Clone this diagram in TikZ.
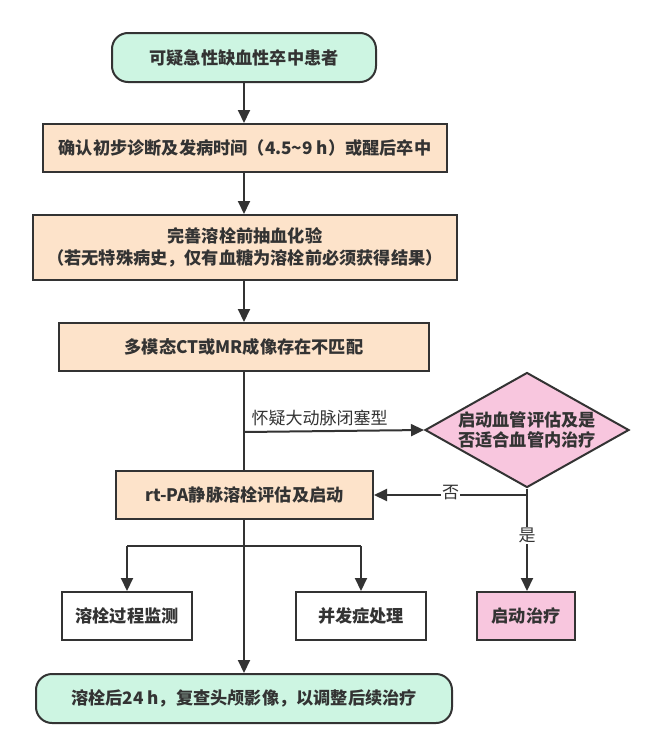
\documentclass[tikz,border=0pt]{standalone}
\usepackage{fontspec}
\setmainfont{Noto Sans CJK SC}
\usetikzlibrary{shapes.geometric,arrows.meta}
\definecolor{ink}{HTML}{333333}
\definecolor{mint}{HTML}{CDF5E2}
\definecolor{peach}{HTML}{FDE3CA}
\definecolor{pinkf}{HTML}{F8C6DE}
\tikzset{
  base/.style={draw=ink, line width=2pt, text=ink, font=\fontsize{17.2}{22}\selectfont\bfseries, inner sep=0pt, align=center},
  term/.style={base, fill=mint, rounded corners=16pt},
  proc/.style={base, fill=peach},
  plain/.style={base, fill=white},
  pinkbox/.style={base, fill=pinkf},
  decide/.style={base, fill=pinkf, shape=diamond, shape aspect=1.77, font=\fontsize{17.2}{20}\selectfont\bfseries},
  conn/.style={draw=ink, line width=2pt},
  arr/.style={conn, -{Triangle[length=13pt,width=12pt]}},
  lbl/.style={text=ink, font=\fontsize{17}{20}\selectfont, inner sep=1pt}
}
\begin{document}
\begin{tikzpicture}[x=1pt,y=-1pt]
\useasboundingbox (0,0) rectangle (660,755);
\node[term, minimum width=264, minimum height=49] (start) at (244,57.5) {可疑急性缺血性卒中患者};
\node[proc, minimum width=404, minimum height=48] (b2) at (245,148) {确认初步诊断及发病时间（4.5\textasciitilde 9 h）或醒后卒中};
\node[proc, minimum width=424, minimum height=65] (b3) at (245,247.5) {完善溶栓前抽血化验\\（若无特殊病史，仅有血糖为溶栓前必须获得结果）};
\node[proc, minimum width=370, minimum height=48] (b4) at (244,347) {多模态CT或MR成像存在不匹配};
\node[decide, minimum width=204, minimum height=115] (dia) at (527,430) {启动血管评估及是\\否适合血管内治疗};
\node[proc, minimum width=257, minimum height=48] (rt) at (244.5,495) {rt-PA静脉溶栓评估及启动};
\node[plain, minimum width=130, minimum height=48] (mon) at (127,616) {溶栓过程监测};
\node[plain, minimum width=130, minimum height=48] (comp) at (361,616) {并发症处理};
\node[pinkbox, minimum width=98, minimum height=48] (treat) at (526,616) {启动治疗};
\node[term, minimum width=416, minimum height=49] (end) at (244,698.5) {溶栓后24 h，复查头颅影像，以调整后续治疗};

\coordinate (fork1) at (244,432);
\coordinate (fork2) at (244,546);
\coordinate (ml) at (127,546);
\coordinate (mr) at (361,546);
\coordinate (dturn) at (527,495);

\draw[arr] (start.south -| 244,0) -- (b2.north -| 244,0);
\draw[arr] (b2.south -| 244,0) -- (b3.north -| 244,0);
\draw[arr] (b3.south -| 244,0) -- (b4.north -| 244,0);
\draw[conn] (b4.south) -- (rt.north -| b4.south);
\draw[arr] (fork1) -- node[lbl, above, pos=0.42, yshift=3pt] {怀疑大动脉闭塞型} (dia.west);
\draw[conn] (dia.south) -- (dturn);
\draw[arr] (dturn) -- node[lbl, fill=white, pos=0.5, yshift=2pt] {否} (rt.east);
\draw[arr] (dturn) -- node[lbl, fill=white, pos=0.42] {是} (treat.north -| dturn);
\draw[arr] (rt.south -| 244,0) -- (end.north -| 244,0);
\draw[conn] (ml) -- (mr);
\draw[arr] (ml) -- (mon.north);
\draw[arr] (mr) -- (comp.north);
\end{tikzpicture}
\end{document}
